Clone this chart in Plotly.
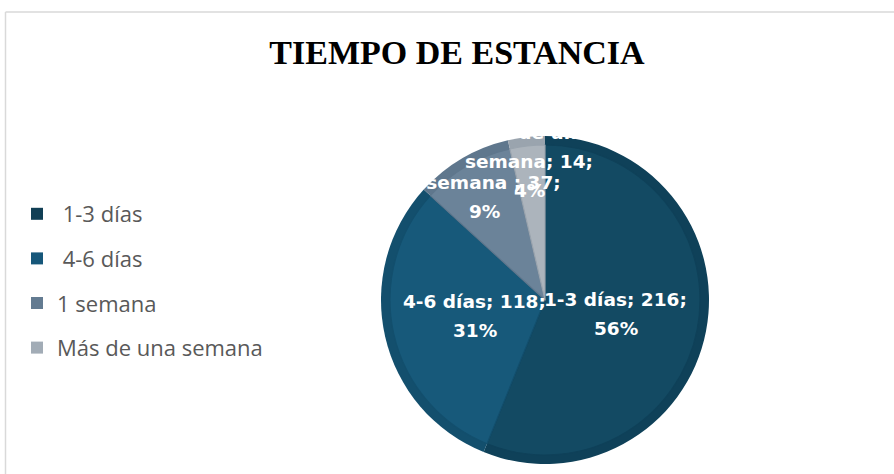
import math
import plotly.graph_objects as go

# ---------------- data ----------------
categories = [" 1-3 días", " 4-6 días", "1 semana", "Más de una semana"]
values = [216, 118, 37, 14]
percent_labels = ["56%", "31%", "9%", "4%"]
title_text = "TIEMPO DE ESTANCIA"

# data-label text layout (line templates, filled from the arrays above)
label_templates = [
    ["{cat}; {val};", "{pct}"],
    ["{cat}; {val};", "{pct}"],
    ["{cat} ; {val};", "{pct}"],
    ["Más de una", "semana; {val};", "{pct}"],
]

# ---------------- style ----------------
W, H = 894, 474
fill_colors = ["#134a63", "#17597a", "#6b8399", "#acb4bc"]
band_colors = ["#0f4159", "#134f6d", "#5f778d", "#9aa4ae"]
legend_colors = ["#113f55", "#16577a", "#637b91", "#a2acb6"]

CX, CY = 545, 300          # pie centre (px)
R_OUT, R_IN = 164, 155     # outer radius / inner fill radius (px)
label_frac = [0.44, 0.44, 0.73, 0.85]
line_gap = 29


def dom(r):
    return dict(x=[(CX - r) / W, (CX + r) / W],
                y=[1 - (CY + r) / H, 1 - (CY - r) / H])


fig = go.Figure()

# outer band pie
fig.add_trace(go.Pie(
    labels=categories, values=values, sort=False, direction="clockwise",
    rotation=0, marker=dict(colors=band_colors, line=dict(width=0)),
    textinfo="none", hoverinfo="skip", showlegend=False, domain=dom(R_OUT),
))
# inner fill pie
fig.add_trace(go.Pie(
    labels=categories, values=values, sort=False, direction="clockwise",
    rotation=0, marker=dict(colors=fill_colors, line=dict(width=1.2, color=band_colors)),
    textinfo="none", hoverinfo="skip", showlegend=False, domain=dom(R_IN),
))

# legend entries (square swatches)
for name, col in zip(categories, legend_colors):
    fig.add_trace(go.Scatter(
        x=[None], y=[None], mode="markers", name=name, legendgroup=name,
        marker=dict(symbol="square", size=12, color=col), hoverinfo="skip",
    ))

# data labels computed from the slice angles
total = sum(values)
cum = 0
annotations = []
for i, (cat, val, pct) in enumerate(zip(categories, values, percent_labels)):
    mid = (cum + val / 2) / total * 2 * math.pi
    cum += val
    d = label_frac[i] * R_OUT
    bx = CX + d * math.sin(mid)
    by = CY - d * math.cos(mid)
    lines = [t.format(cat=cat.strip(), val=val, pct=pct) for t in label_templates[i]]
    n = len(lines)
    for j, ln in enumerate(lines):
        ly = by + (j - (n - 1) / 2) * line_gap
        annotations.append(dict(
            x=bx / W, y=1 - ly / H, xref="paper", yref="paper",
            text=ln, showarrow=False, xanchor="center", yanchor="middle",
            font=dict(family="DejaVu Sans", size=18.5, color="white", weight="bold"),
        ))

shapes = [
    dict(type="line", xref="paper", yref="paper", x0=5.5 / W, x1=1.01,
         y0=1 - 12 / H, y1=1 - 12 / H, line=dict(color="#d9d9d9", width=1.5)),
    dict(type="line", xref="paper", yref="paper", x0=5.5 / W, x1=5.5 / W,
         y0=-0.01, y1=1 - 12 / H, line=dict(color="#d9d9d9", width=1.5)),
]

fig.update_layout(
    width=W, height=H, autosize=False,
    margin=dict(l=0, r=0, t=0, b=0),
    paper_bgcolor="white", plot_bgcolor="white",
    title=dict(text=title_text, x=457 / W, xanchor="center",
               y=1 - 52 / H, yanchor="middle", yref="container",
               font=dict(family="Liberation Serif", size=34, color="#000000", weight="bold")),
    xaxis=dict(visible=False), yaxis=dict(visible=False),
    showlegend=True,
    legend=dict(x=17 / W, xanchor="left", y=1 - 193 / H, yanchor="top",
                font=dict(family="Open Sans", size=22, color="#595959"),
                tracegroupgap=13, bgcolor="rgba(0,0,0,0)"),
    annotations=annotations, shapes=shapes,
)

fig.write_html("out.html", config={"displayModeBar": False},
               post_script="document.body.style.margin='0';")
